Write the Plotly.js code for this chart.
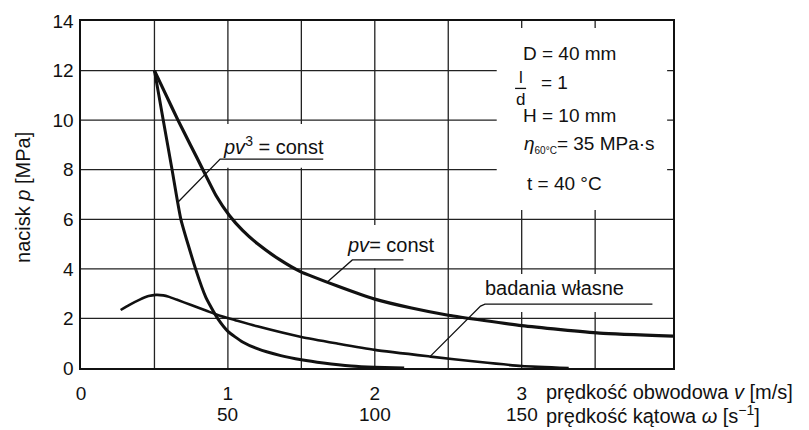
<!DOCTYPE html>
<html>
<head>
<meta charset="utf-8">
<script src="https://cdn.plot.ly/plotly-3.0.1.min.js"></script>
<style>html,body{margin:0;padding:0;background:#fff;}#chart{width:809px;height:430px;}</style>
</head>
<body>
<div id="chart"></div>
<script>
// ---- data ----
// pv = const
const vPv = [0.5, 0.58, 0.66, 0.745, 0.83, 0.92, 1.01, 1.1, 1.2, 1.35, 1.49, 1.75, 2.0, 2.25, 2.5, 3.0, 3.53, 4.03];
const pPv = [12, 11.0, 10, 9, 8, 6.95, 6.15, 5.55, 5.02, 4.38, 3.9, 3.3, 2.78, 2.42, 2.13, 1.71, 1.41, 1.29];
// pv^3 = const
const vPv3 = [0.5, 0.53, 0.56, 0.62, 0.68, 0.78, 0.85, 0.93, 1.0, 1.1, 1.2, 1.36, 1.5, 1.65, 1.84, 2.0, 2.2];
const pPv3 = [12, 11, 10, 8, 6, 4, 2.85, 2.0, 1.48, 1.05, 0.78, 0.5, 0.33, 0.2, 0.08, 0.03, 0.0];
// badania wlasne
const vBad = [0.27, 0.33, 0.40, 0.46, 0.51, 0.56, 0.60, 0.65, 0.75, 0.85, 0.94, 1.05, 1.2, 1.5, 1.75, 2.0, 2.38, 2.7, 3.0, 3.32];
const pBad = [2.34, 2.55, 2.76, 2.9, 2.95, 2.93, 2.87, 2.76, 2.54, 2.32, 2.12, 1.93, 1.68, 1.25, 0.98, 0.73, 0.46, 0.25, 0.08, 0.0];

// tick labels / grid
const vTickVals = [0, 1, 2, 3];
const vTickText = ['0', '1', '2', '3'];
const omegaTicks = [50, 100, 150];
const pTickVals = [0, 2, 4, 6, 8, 10, 12, 14];
const vGrid = [0.5, 1, 1.5, 2, 2.5, 3, 3.5];
const pGrid = [2, 4, 6, 8, 10, 12];

const FONT = 'Liberation Sans, Arial, Helvetica, sans-serif';
const black = '#111';
const X_MAX = 4.03, Y_MAX = 14;

const traces = [
  {x: vPv, y: pPv, mode: 'lines', line: {color: black, width: 3.2, shape: 'spline', smoothing: 0.5}, hoverinfo: 'skip'},
  {x: vPv3, y: pPv3, mode: 'lines', line: {color: black, width: 3, shape: 'spline', smoothing: 0.5}, hoverinfo: 'skip'},
  {x: vBad, y: pBad, mode: 'lines', line: {color: black, width: 2.6, shape: 'spline', smoothing: 0.6}, hoverinfo: 'skip'}
];

const shapes = [];
// grid lines
vGrid.forEach(function (v) {
  shapes.push({type: 'line', xref: 'x', yref: 'y', x0: v, x1: v, y0: 0, y1: Y_MAX,
    line: {color: '#222', width: 1.3}, layer: 'below'});
});
pGrid.forEach(function (p) {
  shapes.push({type: 'line', xref: 'x', yref: 'y', x0: 0, x1: X_MAX, y0: p, y1: p,
    line: {color: '#222', width: 1.3}, layer: 'below'});
});
function whiteBox(x0, x1, y0, y1) {
  shapes.push({type: 'rect', xref: 'x', yref: 'y', x0: x0, x1: x1, y0: y0, y1: y1,
    fillcolor: '#fff', line: {width: 0}, layer: 'below'});
}
function seg(pts) {
  let d = 'M' + pts.map(p => p[0] + ',' + p[1]).join(' L');
  shapes.push({type: 'path', xref: 'x', yref: 'y', path: d, line: {color: black, width: 1.3}, layer: 'above'});
}
whiteBox(2.83, 3.99, 6.37, 13.72);  // parameter box
whiteBox(0.94, 1.76, 8.08, 9.84);   // pv^3 label
whiteBox(1.77, 2.48, 4.03, 5.77);   // pv label
whiteBox(2.72, 3.99, 2.26, 3.79);   // badania label
seg([[0.661, 6.70], [0.947, 8.43], [1.649, 8.43]]);
seg([[1.677, 3.47], [1.847, 4.36], [2.195, 4.36]]);
seg([[2.379, 0.48], [2.72, 2.50], [2.75, 2.58], [3.89, 2.58]]);
// fraction bar l/d
shapes.push({type: 'line', xref: 'x', yref: 'y', x0: 2.955, x1: 3.03, y0: 11.28, y1: 11.28, line: {color: black, width: 1.3}, layer: 'above'});

const ann = [];
function txt(x, y, t, size, opts) {
  ann.push(Object.assign({x: x, y: y, xref: 'x', yref: 'y', text: t, showarrow: false,
    xanchor: 'left', yanchor: 'middle', font: {family: FONT, size: size, color: black}}, opts || {}));
}
txt(0.955, 8.96, '<i>pv</i><sup>3</sup> = const', 20);
txt(1.795, 4.96, '<i>pv</i>= const', 20);
txt(2.735, 3.23, 'badania własne', 20);

txt(2.995, 12.67, 'D = 40 mm', 19);
txt(2.992, 11.30, 'l', 17, {xanchor: 'center', yanchor: 'bottom', borderpad: 0});
txt(2.992, 11.26, 'd', 17, {xanchor: 'center', yanchor: 'top', borderpad: 0});
txt(3.12, 11.5, '= 1', 19);
txt(2.995, 10.17, 'H = 10 mm', 19);
txt(3.0, 9.0, '<i>η</i><sub><span style="font-size:10px">60°C</span></sub>= 35 MPa·s', 19);
txt(3.025, 7.46, 't = 40 °C', 19);

// second row of the x axis: angular speed, placed at v = omega/50
omegaTicks.forEach(function (w) {
  ann.push({x: w / 50, y: -0.135, xref: 'x', yref: 'paper', text: String(w), showarrow: false,
    xanchor: 'center', yanchor: 'middle', font: {family: FONT, size: 19, color: black}});
});
ann.push({x: 3.155, y: -0.069, xref: 'x', yref: 'paper', text: 'prędkość obwodowa <i>v</i> [m/s]', showarrow: false,
  xanchor: 'left', yanchor: 'middle', font: {family: FONT, size: 20, color: black}});
ann.push({x: 3.155, y: -0.135, xref: 'x', yref: 'paper', text: 'prędkość kątowa <i>ω</i> [s<sup>−1</sup>]', showarrow: false,
  xanchor: 'left', yanchor: 'middle', font: {family: FONT, size: 20, color: black}});
ann.push({x: -0.098, y: 0.493, xref: 'paper', yref: 'paper', text: 'nacisk <i>p</i> [MPa]', showarrow: false,
  textangle: -90, xanchor: 'center', yanchor: 'middle', font: {family: FONT, size: 20, color: black}});

const layout = {
  width: 809, height: 430,
  margin: {l: 81, r: 136, t: 21, b: 62},
  paper_bgcolor: '#fff', plot_bgcolor: '#fff',
  showlegend: false,
  xaxis: {range: [0, X_MAX], tickvals: vTickVals, ticktext: vTickText, showgrid: false,
    zeroline: false, showline: true, mirror: true, linecolor: black, linewidth: 1.6, ticks: '',
    ticklabelstandoff: 8, tickfont: {family: FONT, size: 19, color: black}, fixedrange: true},
  yaxis: {range: [0, Y_MAX], tickvals: pTickVals, showgrid: false,
    zeroline: false, showline: true, mirror: true, linecolor: black, linewidth: 1.6, ticks: '',
    ticklabelstandoff: 2, tickfont: {family: FONT, size: 19, color: black}, fixedrange: true},
  shapes: shapes,
  annotations: ann
};

Plotly.newPlot('chart', traces, layout, {staticPlot: true, displayModeBar: false});
</script>
</body>
</html>
